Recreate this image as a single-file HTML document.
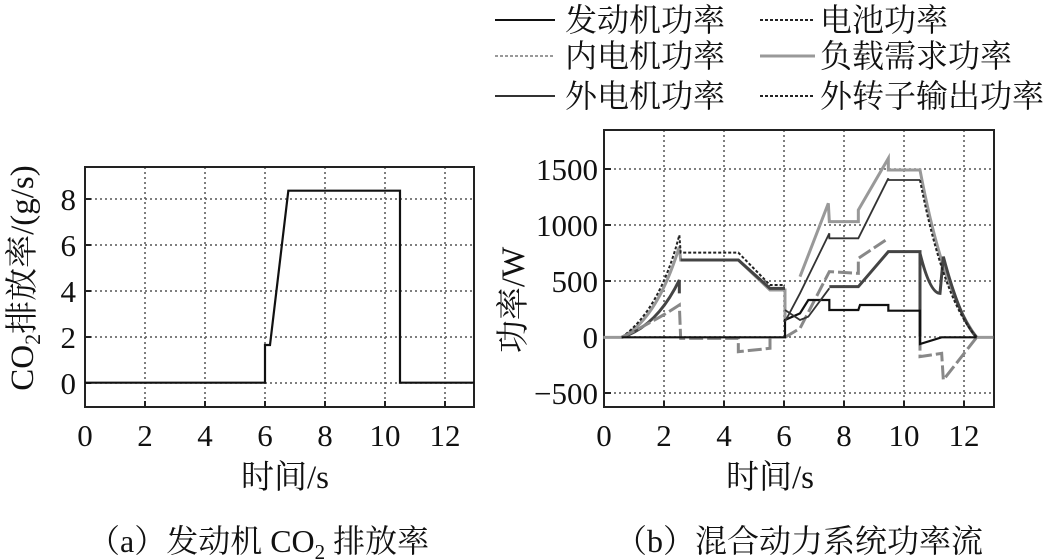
<!DOCTYPE html>
<html><head><meta charset="utf-8"><style>
html,body{margin:0;padding:0;background:#fff;}
svg{display:block;font-family:"Liberation Serif","Noto Serif CJK SC",serif;}
.t{font-size:31px;fill:#111;}
.a{font-size:33px;fill:#111;}
.l{font-size:32px;fill:#111;}
.g{stroke:#555;stroke-width:1.5;stroke-dasharray:2 3;fill:none;}
</style></head><body>
<svg width="1056" height="559" viewBox="0 0 1056 559">
<!-- Left chart -->
<g>
<g class="g">
<line x1="145" y1="167" x2="145" y2="407"/><line x1="205" y1="167" x2="205" y2="407"/><line x1="265" y1="167" x2="265" y2="407"/><line x1="325" y1="167" x2="325" y2="407"/><line x1="385" y1="167" x2="385" y2="407"/><line x1="445" y1="167" x2="445" y2="407"/>
<line x1="85" y1="383" x2="474" y2="383"/><line x1="85" y1="337" x2="474" y2="337"/><line x1="85" y1="291" x2="474" y2="291"/><line x1="85" y1="245" x2="474" y2="245"/><line x1="85" y1="199" x2="474" y2="199"/>
</g>
<rect x="85" y="167" width="389" height="240" fill="none" stroke="#222" stroke-width="2"/>
<g stroke="#222" stroke-width="2">
<line x1="145" y1="407" x2="145" y2="401"/><line x1="205" y1="407" x2="205" y2="401"/><line x1="265" y1="407" x2="265" y2="401"/><line x1="325" y1="407" x2="325" y2="401"/><line x1="385" y1="407" x2="385" y2="401"/><line x1="445" y1="407" x2="445" y2="401"/>
<line x1="85" y1="383" x2="91" y2="383"/><line x1="85" y1="337" x2="91" y2="337"/><line x1="85" y1="291" x2="91" y2="291"/><line x1="85" y1="245" x2="91" y2="245"/><line x1="85" y1="199" x2="91" y2="199"/>
</g>
<g transform="translate(0,150) scale(0.33333)">
<path d="M255,698 L795,698 L795,585 L810,585 L865,122 L1200,122 L1200,698 L1422,698" fill="none" stroke="#111" stroke-width="2.2" vector-effect="non-scaling-stroke"/>
</g>
<g class="t" text-anchor="middle">
<text x="85" y="446">0</text><text x="145" y="446">2</text><text x="205" y="446">4</text><text x="265" y="446">6</text><text x="325" y="446">8</text><text x="385" y="446">10</text><text x="445" y="446">12</text>
</g>
<g class="t" text-anchor="end">
<text x="76" y="394">0</text><text x="76" y="348">2</text><text x="76" y="302">4</text><text x="76" y="256">6</text><text x="76" y="210">8</text>
</g>
<text class="a" x="285" y="488" text-anchor="middle">时间/s</text>
<text class="a" transform="translate(33,278) rotate(-90)" text-anchor="middle">CO<tspan font-size="22" dy="7">2</tspan><tspan dy="-7">排放率/(g/s)</tspan></text>
</g>

<!-- Right chart -->
<g>
<g class="g">
<line x1="664" y1="130" x2="664" y2="407"/><line x1="724" y1="130" x2="724" y2="407"/><line x1="784" y1="130" x2="784" y2="407"/><line x1="844" y1="130" x2="844" y2="407"/><line x1="904" y1="130" x2="904" y2="407"/><line x1="964" y1="130" x2="964" y2="407"/>
<line x1="604" y1="393" x2="994" y2="393"/><line x1="604" y1="337" x2="994" y2="337"/><line x1="604" y1="281" x2="994" y2="281"/><line x1="604" y1="225" x2="994" y2="225"/><line x1="604" y1="169" x2="994" y2="169"/>
</g>
<rect x="604" y="130" width="390" height="277" fill="none" stroke="#222" stroke-width="2"/>
<g stroke="#222" stroke-width="2">
<line x1="664" y1="407" x2="664" y2="401"/><line x1="724" y1="407" x2="724" y2="401"/><line x1="784" y1="407" x2="784" y2="401"/><line x1="844" y1="407" x2="844" y2="401"/><line x1="904" y1="407" x2="904" y2="401"/><line x1="964" y1="407" x2="964" y2="401"/>
<line x1="604" y1="393" x2="611" y2="393"/><line x1="604" y1="337" x2="611" y2="337"/><line x1="604" y1="281" x2="611" y2="281"/><line x1="604" y1="225" x2="611" y2="225"/><line x1="604" y1="169" x2="611" y2="169"/>
</g>
<g transform="translate(590,120) scale(0.33333)" fill="none">
<path d="M40,652 L95,652 Q200,600 268,380 L272,420 L445,420 L540,510 L585,510 L585,600 M630,470 L715,250 L718,305 L805,305 L805,270 L895,115 L895,150 L990,150 Q1060,520 1160,652 L1210,652" stroke="#999" stroke-width="3" vector-effect="non-scaling-stroke"/>
<path d="M95,652 Q200,620 268,480 L268,520 M272,420 L445,420 L540,505 L585,505 M718,500 L805,500 L895,395 L990,395 L990,652 M990,400 Q1020,520 1050,520 L1060,410 Q1110,600 1160,652" stroke="#444" stroke-width="3" vector-effect="non-scaling-stroke"/>
<path d="M95,652 Q210,570 268,345 L272,398 L445,398 L540,495 L585,495 M990,180 Q1060,540 1160,652" stroke="#222" stroke-width="2" stroke-dasharray="3 2" vector-effect="non-scaling-stroke"/>
<path d="M95,652 Q200,600 268,555 L272,655 L445,655 L445,695 L540,685 L540,652 M585,652 L630,625 L718,455 L805,460 L805,415 L895,355 M990,650 L990,710 L1055,700 L1060,780 L1160,652" stroke="#888" stroke-width="3" stroke-dasharray="14 4" vector-effect="non-scaling-stroke"/>
<path d="M95,652 L585,652 L585,600 L630,580 L655,540 L718,540 L718,570 L805,570 L810,555 L895,555 L895,572 L990,572 L990,672 L1055,652 L1160,652" stroke="#111" stroke-width="2.2" vector-effect="non-scaling-stroke"/>
<path d="M585,605 L630,520 L718,340 L718,355 L805,355 L895,175 L895,180 L990,180 M585,570 L630,600 L655,590 L718,505" stroke="#333" stroke-width="1.8" vector-effect="non-scaling-stroke"/>
</g>
<g class="t" text-anchor="middle">
<text x="604" y="446">0</text><text x="664" y="446">2</text><text x="724" y="446">4</text><text x="784" y="446">6</text><text x="844" y="446">8</text><text x="904" y="446">10</text><text x="964" y="446">12</text>
</g>
<g class="t" text-anchor="end">
<text x="598" y="404">−500</text><text x="598" y="348">0</text><text x="598" y="292">500</text><text x="598" y="236">1000</text><text x="598" y="180">1500</text>
</g>
<text class="a" x="770" y="488" text-anchor="middle">时间/s</text>
<text class="a" transform="translate(524,300) rotate(-90)" text-anchor="middle">功率/W</text>
</g>

<!-- Legend -->
<g>
<line x1="495" y1="20" x2="555" y2="20" stroke="#111" stroke-width="2"/>
<text class="l" x="565" y="31">发动机功率</text>
<line x1="760" y1="20" x2="815" y2="20" stroke="#222" stroke-width="2" stroke-dasharray="3 2"/>
<text class="l" x="820" y="31">电池功率</text>
<line x1="495" y1="56" x2="555" y2="56" stroke="#999" stroke-width="2" stroke-dasharray="3 2"/>
<text class="l" x="565" y="67">内电机功率</text>
<line x1="760" y1="56" x2="815" y2="56" stroke="#999" stroke-width="3"/>
<text class="l" x="820" y="67">负载需求功率</text>
<line x1="495" y1="96" x2="555" y2="96" stroke="#333" stroke-width="2"/>
<text class="l" x="565" y="107">外电机功率</text>
<line x1="760" y1="96" x2="815" y2="96" stroke="#222" stroke-width="2" stroke-dasharray="3 2"/>
<text class="l" x="820" y="107">外转子输出功率</text>
</g>

<!-- Captions -->
<text class="l" x="88" y="552">（a）发动机 CO<tspan font-size="21" dy="7">2</tspan><tspan dy="-7"> 排放率</tspan></text>
<text class="l" x="615" y="552">（b）混合动力系统功率流</text>
</svg>
</body></html>
